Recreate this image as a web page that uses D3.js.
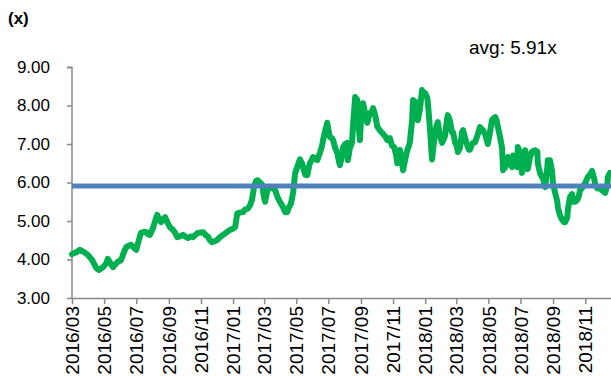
<!DOCTYPE html>
<meta charset="utf-8">
<script src="https://d3js.org/d3.v7.min.js"></script>
<style>
body {margin: 0; background: #fff;}
svg text {font-family: "Liberation Sans", Arial, sans-serif; fill: #000;}
.axis path, .axis line {stroke: #898989; stroke-width: 1.5px;}
.axis text {font-size: 17px;}
.xaxis text {font-size: 19px;}
</style>
<svg width="611" height="376"></svg>
<script>
// series start and days elapsed for each reading
var startDate = "2016-03-01";
var endDate = "2018-12-20";
var dayOffsets = [0,8,15,23,30,38,46,51,59,65,68,74,78,84,87,93,99,103,108,112,118,122,127,131,137,141,144,148,154,158,162,165,169,173,177,181,186,192,196,200,205,211,217,220,226,230,236,239,245,249,255,258,262,266,272,276,281,287,293,300,306,310,314,319,325,329,334,338,342,346,350,353,357,361,365,367,371,372,378,382,386,391,395,401,405,409,412,416,420,424,428,433,437,439,443,447,450,452,456,458,462,466,469,471,475,477,481,485,488,490,494,496,500,504,507,509,513,515,519,523,524,528,532,534,538,542,543,545,547,549,553,557,561,564,566,570,572,576,580,585,589,595,599,604,608,612,616,618,621,623,627,629,633,637,640,642,646,648,652,656,657,661,665,669,671,675,676,680,684,688,690,693,695,699,703,707,709,712,714,718,722,724,728,731,733,737,741,743,747,750,754,756,760,762,766,771,775,781,785,790,794,798,802,804,807,809,813,817,819,823,826,828,832,836,838,842,846,847,851,855,859,861,865,866,870,874,880,884,885,889,893,895,899,903,904,908,912,914,918,922,923,927,931,935,937,941,942,946,950,952,956,960,963,965,969,975,980,984,988,992,994,998,999,1003,1007,1011,1013,1017,1018,1022];
var multiples = [4.14,4.19,4.25,4.19,4.12,3.99,3.78,3.73,3.80,3.90,4.02,3.88,3.80,3.90,3.94,3.98,4.20,4.32,4.36,4.38,4.30,4.25,4.50,4.69,4.72,4.71,4.66,4.64,4.82,5.00,5.16,5.05,4.97,5.05,5.10,4.97,4.84,4.77,4.69,4.58,4.60,4.64,4.58,4.56,4.60,4.58,4.66,4.69,4.70,4.71,4.62,4.60,4.50,4.45,4.48,4.51,4.58,4.64,4.70,4.77,4.80,4.84,5.20,5.22,5.23,5.30,5.32,5.40,5.55,5.90,6.05,6.06,6.00,5.95,5.60,5.50,5.80,5.88,5.85,5.85,5.80,5.60,5.50,5.36,5.23,5.23,5.35,5.45,5.73,6.25,6.40,6.60,6.50,6.40,6.20,6.19,6.40,6.50,6.60,6.66,6.62,6.58,6.70,6.77,6.95,7.10,7.35,7.55,7.30,7.18,7.15,7.10,6.90,6.77,6.55,6.45,6.70,6.92,7.00,7.03,6.58,6.90,7.03,7.50,8.22,8.15,8.00,7.40,7.10,7.60,8.06,7.80,7.55,7.70,7.80,7.85,7.93,7.75,7.45,7.35,7.29,7.20,7.10,7.15,6.95,6.92,6.70,6.50,6.80,6.85,6.50,6.32,6.60,6.84,6.95,7.05,7.60,8.14,8.10,7.95,7.62,7.90,8.40,8.30,8.32,8.20,8.09,7.40,6.60,7.10,7.30,7.50,7.57,7.20,7.03,7.15,7.23,7.60,7.75,7.60,7.30,7.30,7.03,6.95,6.79,6.90,7.31,7.36,7.15,7.00,6.85,6.85,7.00,7.03,7.05,7.25,7.44,7.35,7.25,7.00,7.30,7.62,7.68,7.70,7.60,7.45,7.20,6.90,6.32,6.40,6.60,6.66,6.50,6.40,6.70,6.60,6.40,6.92,6.80,6.25,6.60,6.84,6.60,6.35,6.65,6.80,6.84,6.80,6.50,6.25,6.14,6.10,5.88,6.40,6.58,6.58,6.30,5.95,5.73,5.50,5.36,5.15,5.03,4.97,4.97,5.10,5.29,5.62,5.70,5.50,5.50,5.55,5.65,5.80,5.85,5.99,6.14,6.20,6.30,6.10,5.95,5.85,5.88,5.85,5.80,5.75,5.73,5.95,6.14,6.25];
var average = 5.91;
var yTicks = [3, 4, 5, 6, 7, 8, 9];
var unitLabel = "(x)";
var avgLabel = "avg: 5.91x";

var svg = d3.select("svg");
var parse = d3.timeParse("%Y-%m-%d");
var t0 = parse(startDate);

var data = dayOffsets.map(function(d, i) {
  return {date: d3.timeDay.offset(t0, d), value: multiples[i]};
});

var x = d3.scaleTime()
    .domain([t0, parse(endDate)])
    .range([72, 611]);

var y = d3.scaleLinear()
    .domain([3, 9])
    .range([298, 67]);

var xTicks = d3.timeMonth.range(t0, parse(endDate), 2);

svg.append("g")
    .attr("class", "axis")
    .attr("transform", "translate(72,0)")
    .call(d3.axisLeft(y).tickValues(yTicks).tickSize(5).tickPadding(17)
          .tickFormat(d3.format(".2f")))
    .call(function(g) { g.select(".domain").attr("d", "M-5,67.5H0V298"); });

var xa = svg.append("g")
    .attr("class", "axis xaxis")
    .attr("transform", "translate(0,298)")
    .call(d3.axisBottom(x).tickValues(xTicks).tickSizeInner(6).tickSizeOuter(0)
          .tickFormat(d3.timeFormat("%Y/%m")));

xa.selectAll("text")
    .attr("transform", "rotate(-90)")
    .attr("text-anchor", "end")
    .attr("x", -8)
    .attr("y", 0)
    .attr("dy", "0.35em");

var line = d3.line()
    .x(function(d) { return x(d.date); })
    .y(function(d) { return y(d.value); });

svg.append("path")
    .datum(data)
    .attr("fill", "none")
    .attr("stroke", "#00B050")
    .attr("stroke-width", 6)
    .attr("stroke-linejoin", "round")
    .attr("stroke-linecap", "round")
    .attr("d", line);

svg.append("line")
    .attr("x1", 72)
    .attr("x2", 611)
    .attr("y1", y(average))
    .attr("y2", y(average))
    .attr("stroke", "#4F81BD")
    .attr("stroke-width", 5);

svg.append("text")
    .attr("x", 8)
    .attr("y", 24)
    .style("font-size", "17px")
    .style("font-weight", "bold")
    .text(unitLabel);

svg.append("text")
    .attr("x", 469)
    .attr("y", 54)
    .style("font-size", "19px")
    .text(avgLabel);
</script>
